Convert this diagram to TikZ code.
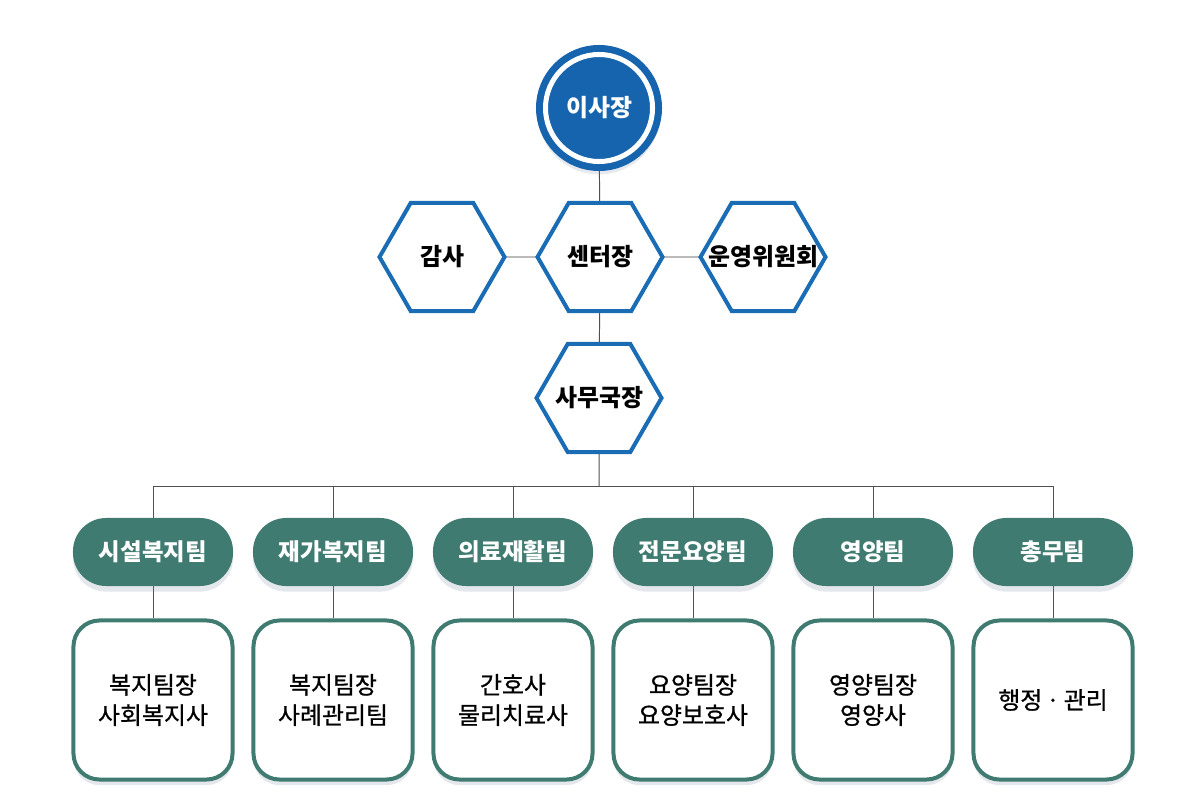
\documentclass[tikz,border=0pt]{standalone}
\usepackage{fontspec}
\setmainfont{Noto Sans CJK KR}
\usepackage{tikz}
\usetikzlibrary{shapes.geometric,positioning,shadows,backgrounds}
\definecolor{ceoblue}{RGB}{22,100,174}
\definecolor{hexblue}{RGB}{26,109,181}
\definecolor{teamgreen}{RGB}{63,123,112}
\definecolor{linegray}{RGB}{80,80,80}
\definecolor{sidegray}{RGB}{150,150,150}
\definecolor{shadowblue}{RGB}{120,135,160}

\begin{document}
\begin{tikzpicture}[x=0.025cm, y=-0.025cm]
\tikzstyle{ceo} = [circle, inner sep=0, outer sep=0, minimum size=2.675cm, fill=ceoblue, draw=ceoblue, line width=0.175cm, double=white, double distance=0.125cm, text=white, font=\bfseries\fontsize{17}{20}\selectfont, drop shadow={shadow scale=1.15, shadow xshift=0pt, shadow yshift=-3pt, opacity=0.18, fill=shadowblue}]
\tikzstyle{hexbox} = [regular polygon, regular polygon sides=6, inner sep=-0.6cm, outer sep=0, minimum size=3.125cm, draw=hexblue, line width=0.1cm, fill=white, font=\bfseries\fontsize{17}{20}\selectfont]
\tikzstyle{team} = [rectangle, rounded corners=0.83cm, minimum width=4cm, minimum height=1.7cm, fill=teamgreen, text=white, font=\bfseries\fontsize{16.7}{20}\selectfont, drop shadow={shadow xshift=0pt, shadow yshift=-4pt, opacity=0.2, fill=shadowblue}]
\tikzstyle{staff} = [rectangle, rounded corners=0.65cm, minimum width=3.975cm, minimum height=3.975cm, draw=teamgreen, line width=0.1cm, fill=white, align=center, font=\fontsize{17}{21.5}\selectfont\addfontfeature{FakeBold=0.8}, drop shadow={shadow xshift=0pt, shadow yshift=-4pt, opacity=0.2, fill=shadowblue}]
\tikzstyle{link} = [draw=linegray, line width=0.7pt]
\tikzstyle{sidelink} = [draw=sidegray, line width=0.9pt]

\useasboundingbox (0,0) rectangle (1200,800);

% top
\node (ceo) [ceo] at (599,108) {이사장};
\node (center) [hexbox] at (600,257) {센터장};
\node (audit) [hexbox] at (442,257) {감사};
\node (board) [hexbox] at (763,257) {운영위원회};
\node (office) [hexbox] at (599,398) {사무국장};

% teams
\node (team1) [team] at (153,552) {시설복지팀};
\node (team2) [team] at (333,552) {재가복지팀};
\node (team3) [team] at (513,552) {의료재활팀};
\node (team4) [team] at (693,552) {전문요양팀};
\node (team5) [team] at (873,552) {영양팀};
\node (team6) [team] at (1053,552) {총무팀};

% staff
\node (staff1) [staff] at (153,700) {복지팀장\\사회복지사};
\node (staff2) [staff] at (333,700) {복지팀장\\사례관리팀};
\node (staff3) [staff] at (513,700) {간호사\\물리치료사};
\node (staff4) [staff] at (693,700) {요양팀장\\요양보호사};
\node (staff5) [staff] at (873,700) {영양팀장\\영양사};
\node (staff6) [staff] at (1053,700) {행정\,·\,관리};

\coordinate (bus) at (599,486);

\begin{scope}[on background layer]
\draw [link] (ceo) -- (center);
\draw [sidelink] (audit) -- (center);
\draw [sidelink] (center) -- (board);
\draw [link] (center) -- (office);
\draw [link] (office) -- (bus);
\draw [link] (bus) -| (team1);
\draw [link] (bus) -| (team2);
\draw [link] (bus) -| (team3);
\draw [link] (bus) -| (team4);
\draw [link] (bus) -| (team5);
\draw [link] (bus) -| (team6);
\draw [link] (team1) -- (staff1);
\draw [link] (team2) -- (staff2);
\draw [link] (team3) -- (staff3);
\draw [link] (team4) -- (staff4);
\draw [link] (team5) -- (staff5);
\draw [link] (team6) -- (staff6);
\end{scope}
\end{tikzpicture}
\end{document}
